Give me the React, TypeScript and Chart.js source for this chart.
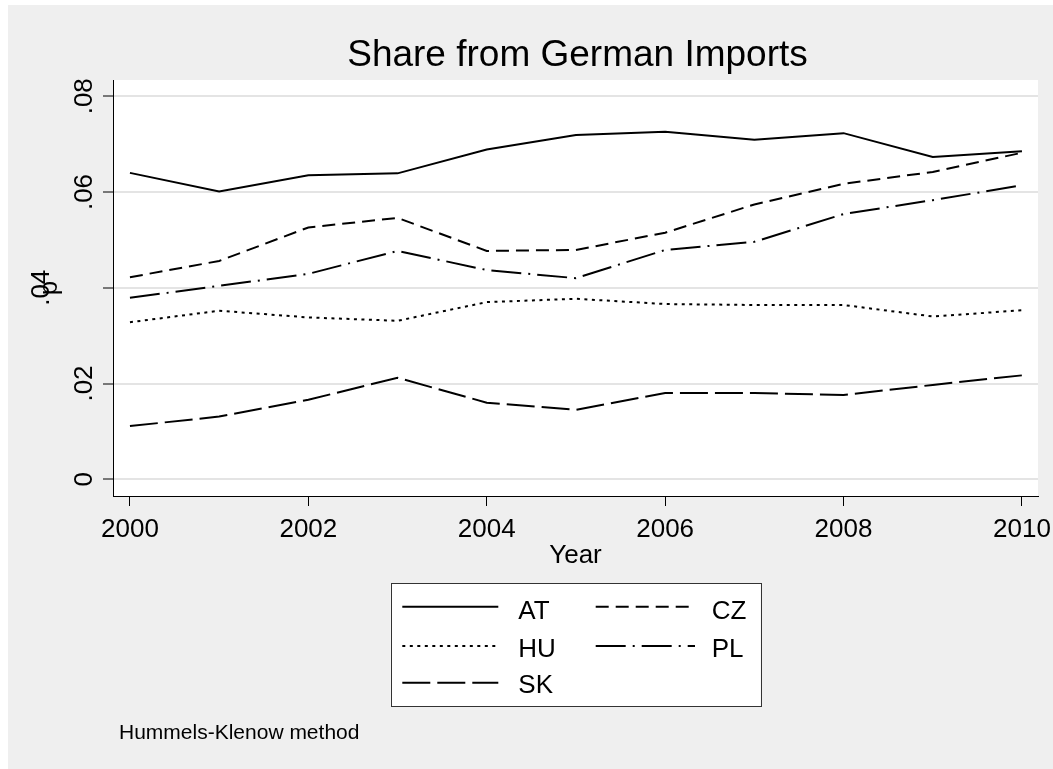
import React, { useEffect, useRef } from "react";
import { Chart, registerables } from "chart.js";

Chart.register(...registerables);

const years = [2000, 2001, 2002, 2003, 2004, 2005, 2006, 2007, 2008, 2009, 2010];
const xTickYears = [2000, 2002, 2004, 2006, 2008, 2010];
const yTickValues = [0, 0.02, 0.04, 0.06, 0.08];
const yTickLabels = ["0", ".02", ".04", ".06", ".08"];

const AT = [0.064, 0.0601, 0.0635, 0.0639, 0.0689, 0.0719, 0.0726, 0.0709, 0.0723, 0.0673, 0.0685];
const CZ = [0.0422, 0.0456, 0.0526, 0.0546, 0.0477, 0.0479, 0.0515, 0.0574, 0.0617, 0.0642, 0.0682];
const HU = [0.0328, 0.0352, 0.0338, 0.0331, 0.037, 0.0377, 0.0366, 0.0364, 0.0364, 0.034, 0.0353];
const PL = [0.0379, 0.0404, 0.0429, 0.0477, 0.0437, 0.042, 0.0479, 0.0496, 0.0554, 0.0583, 0.0614];
const SK = [0.0111, 0.0131, 0.0166, 0.0212, 0.016, 0.0145, 0.018, 0.018, 0.0176, 0.0197, 0.0217];

const seriesNames = ["AT", "CZ", "HU", "PL", "SK"];
const seriesValues = [AT, CZ, HU, PL, SK];
const seriesDash: number[][] = [[], [13, 7], [3, 4.5], [30, 7, 2, 7], [28, 7]];

const TITLE = "Share from German Imports";
const X_TITLE = "Year";
const Y_TITLE = "p";
const NOTE = "Hummels-Klenow method";

const FONT = '"Liberation Sans", Arial, Helvetica, sans-serif';
const W = 1045;
const H = 764;

const textPlugin = {
  id: "stataText",
  beforeDraw(chart: any) {
    const { ctx, chartArea } = chart;
    ctx.save();
    ctx.fillStyle = "#efefef";
    ctx.fillRect(0, 0, chart.width, chart.height);
    ctx.fillStyle = "#ffffff";
    ctx.fillRect(chartArea.left, chartArea.top, chartArea.right - chartArea.left, chartArea.bottom - chartArea.top);
    ctx.restore();
  },
  afterDraw(chart: any) {
    const { ctx, chartArea, scales } = chart;
    const xs = scales.x;
    const ys = scales.y;
    ctx.save();
    ctx.fillStyle = "#000";
    ctx.textBaseline = "alphabetic";

    // title
    ctx.font = `37px ${FONT}`;
    ctx.textAlign = "center";
    ctx.fillText(TITLE, (chartArea.left + chartArea.right) / 2 + 2, 61);

    // x tick labels
    ctx.font = `26px ${FONT}`;
    xTickYears.forEach((yr) => {
      ctx.fillText(String(yr), xs.getPixelForValue(yr), 531.7);
    });
    // x title
    ctx.fillText(X_TITLE, (chartArea.left + chartArea.right) / 2, 557.7);

    // y tick labels rotated
    yTickValues.forEach((v, i) => {
      const py = ys.getPixelForValue(v);
      const bx = yTickLabels[i] === ".04" ? 41 : 84;
      ctx.save();
      ctx.translate(bx, py);
      ctx.rotate(-Math.PI / 2);
      ctx.textAlign = "center";
      ctx.fillText(yTickLabels[i], 0, 0);
      ctx.restore();
    });
    // y title
    ctx.save();
    ctx.translate(49, (chartArea.top + chartArea.bottom) / 2);
    ctx.rotate(-Math.PI / 2);
    ctx.textAlign = "center";
    ctx.fillText(Y_TITLE, 0, 0);
    ctx.restore();

    // legend
    const lx = 382.7, ly = 578.3, lw = 370, lh = 123.4;
    ctx.fillStyle = "#fff";
    ctx.fillRect(lx, ly, lw, lh);
    ctx.strokeStyle = "#333";
    ctx.lineWidth = 1;
    ctx.strokeRect(Math.round(lx) + 0.5, Math.round(ly) + 0.5, Math.round(lw), Math.round(lh));
    const cols = [
      { s0: 394.3, s1: 490.3, tx: 510.3 },
      { s0: 587.7, s1: 687, tx: 703.7 },
    ];
    const rowsLine = [601.7, 641, 677.7];
    const rowsText = [614.3, 651.7, 688.3];
    seriesNames.forEach((name, i) => {
      const c = cols[i % 2];
      const r = Math.floor(i / 2);
      ctx.strokeStyle = "#000";
      ctx.lineWidth = 2;
      ctx.setLineDash(seriesDash[i]);
      ctx.beginPath();
      ctx.moveTo(c.s0, rowsLine[r]);
      ctx.lineTo(c.s1, rowsLine[r]);
      ctx.stroke();
      ctx.setLineDash([]);
      ctx.fillStyle = "#000";
      ctx.textAlign = "left";
      ctx.font = `26px ${FONT}`;
      ctx.fillText(name, c.tx, rowsText[r]);
    });

    // note
    ctx.font = `21px ${FONT}`;
    ctx.textAlign = "left";
    ctx.fillText(NOTE, 111, 734);
    ctx.restore();
  },
};

export default function App() {
  const ref = useRef<HTMLCanvasElement | null>(null);
  useEffect(() => {
    if (!ref.current) return;
    const chart = new Chart(ref.current, {
      type: "line",
      data: {
        datasets: seriesNames.map((name, i) => ({
          label: name,
          data: years.map((yr, j) => ({ x: yr, y: seriesValues[i][j] })),
          borderColor: "#000",
          backgroundColor: "#000",
          borderWidth: 2,
          borderDash: seriesDash[i],
          pointRadius: 0,
          fill: false,
          tension: 0,
        })),
      },
      options: {
        responsive: false,
        animation: false,
        events: [],
        layout: { padding: { left: 0, top: 75, right: 15, bottom: 0 } },
        plugins: {
          legend: { display: false },
          title: { display: false },
          tooltip: { enabled: false },
        },
        scales: {
          x: {
            type: "linear",
            min: 1999.81,
            max: 2010.18,
            afterBuildTicks: (s: any) => {
              s.ticks = xTickYears.map((v) => ({ value: v }));
            },
            afterFit: (s: any) => {
              s.height = 273;
            },
            ticks: { display: false },
            grid: {
              drawOnChartArea: false,
              drawTicks: true,
              tickLength: 10,
              tickColor: "#000",
              tickWidth: 1,
            },
            border: { display: true, color: "#000", width: 1 },
          },
          y: {
            type: "linear",
            min: -0.0035,
            max: 0.0834,
            afterBuildTicks: (s: any) => {
              s.ticks = yTickValues.map((v) => ({ value: v }));
            },
            afterFit: (s: any) => {
              s.width = 105;
            },
            ticks: { display: false },
            grid: {
              color: "#e4e4e4",
              lineWidth: 2,
              drawTicks: true,
              tickLength: 10,
              tickColor: "#000",
              tickWidth: 1,
            },
            border: { display: true, color: "#000", width: 1 },
          },
        },
      } as any,
      plugins: [textPlugin],
    });
    return () => chart.destroy();
  }, []);
  return (
    <div style={{ position: "fixed", left: 8, top: 5, width: W, height: H, background: "#efefef" }}>
      <canvas ref={ref} width={W} height={H} style={{ display: "block" }} />
    </div>
  );
}
